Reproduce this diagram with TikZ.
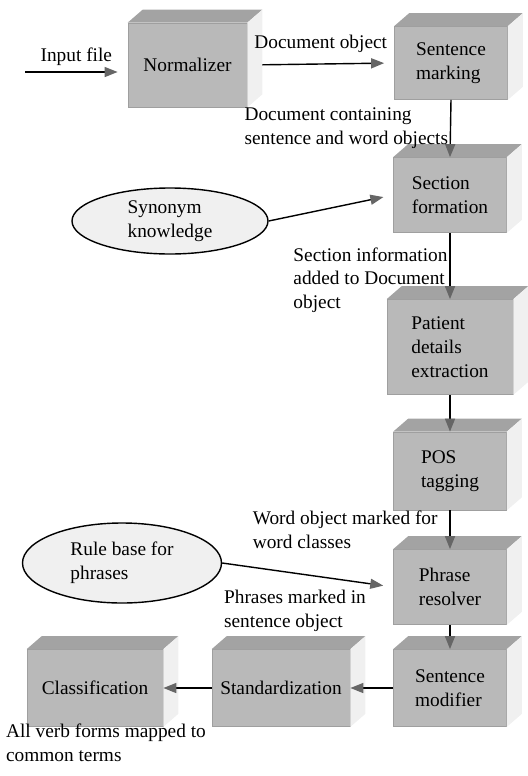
\documentclass[tikz,border=0pt]{standalone}
\usepackage{fontspec}
\setmainfont{Liberation Serif}
\usepackage{tikz}
\usetikzlibrary{shapes.geometric, arrows.meta, positioning}

\begin{document}
\begin{tikzpicture}[every node/.style={font=\fontsize{11}{13.5}\selectfont}]
    % Define styles
    \tikzstyle{block} = [rectangle, minimum width=2.26cm, minimum height=1.5cm, inner sep=2pt, align=left, fill=gray!55, draw=gray!75]
    \tikzstyle{topface} = [fill=gray!72]
    \tikzstyle{sideface} = [fill=gray!12]
    \tikzstyle{knowledge} = [ellipse, minimum width=3.92cm, minimum height=1.32cm, inner sep=0pt, align=left, draw=black, thick, fill=gray!12]
    \tikzstyle{note} = [align=left, inner sep=1pt]
    \tikzstyle{arrow} = [line width=0.8pt, -{Triangle[length=0.26cm, width=0.2cm, color=black!60]}]

    \useasboundingbox (0,0) rectangle (10.56,-15.52);

    % Top row
    \node (norm) [block, minimum width=2.38cm, minimum height=1.68cm] at (3.75, -1.30) {Normalizer};
    \node (smark) [block, minimum height=1.46cm] at (9.02, -1.26) {Sentence\\marking};

    % Right column
    \node (secf) [block] at (9.0, -3.90) {Section\\formation};
    \node (pat) [block, minimum width=2.52cm, minimum height=1.9cm] at (9.0, -6.94) {Patient\\details\\extraction};
    \node (pos) [block, minimum height=1.56cm] at (9.0, -9.42) {POS\\tagging};
    \node (phr) [block] at (9.0, -11.74) {Phrase\\resolver};
    \node (smod) [block, minimum height=1.54cm] at (9.0, -13.76) {Sentence\\modifier};

    % Bottom row
    \node (std) [block, minimum width=2.76cm, minimum height=1.54cm] at (5.62, -13.76) {Standardization};
    \node (cls) [block, minimum width=2.72cm, minimum height=1.54cm] at (1.90, -13.76) {Classification};

    % Knowledge bases
    \node (syn) [knowledge] at (3.40, -4.42) {Synonym\\knowledge};
    \node (rule) [knowledge, minimum width=3.98cm, minimum height=1.6cm] at (2.44, -11.26) {Rule base for\\phrases};

    % 3D faces of the blocks
    \foreach \b in {norm, smark, secf, pat, pos, phr, smod, std, cls} {
        \fill[topface] (\b.north west) -- ++(0.3,0.26) -- ([shift={(0.3,0.26)}]\b.north east) -- (\b.north east) -- cycle;
        \fill[sideface] (\b.north east) -- ++(0.3,0.26) -- ([shift={(0.3,0.26)}]\b.south east) -- (\b.south east) -- cycle;
    }

    % Input
    \coordinate (in) at (0.5, -1.44);
    \draw [arrow, shorten >=0.2cm] (in) -- node[above] {Input file} (in -| norm.west);

    % Main flow arrows
    \draw [arrow, shorten <=0.3cm, shorten >=0.2cm] (norm.east) -- node[above, yshift=0.1cm] {Document object} (smark.west);
    \draw [arrow] (smark.south) -- node[note, left] {Document containing\\sentence and word objects} (secf.north);
    \draw [arrow, shorten >=0.2cm] (syn.east) -- (secf.west);
    \draw [arrow] (secf.south) -- node[note, left, yshift=-0.28cm] {Section information\\added to Document\\object} (pat.north);
    \draw [arrow] (pat.south) -- (pos.north);
    \draw [arrow] (pos.south) -- node[note, left, xshift=-0.2cm] {Word object marked for\\word classes} (phr.north);
    \draw [arrow, shorten >=0.2cm] (rule.east) -- (phr.west);
    \draw [arrow] (phr.south) -- (smod.north);
    \draw [arrow] (smod.west) -- (std.east);
    \draw [arrow] (std.west) -- (cls.east);

    % Free labels
    \node (phrnote) [note, anchor=north west] at (4.44, -11.76) {Phrases marked in\\sentence object};
    \node (clsnote) [note, anchor=north west] at (0.08, -14.44) {All verb forms mapped to\\common terms};
\end{tikzpicture}
\end{document}
